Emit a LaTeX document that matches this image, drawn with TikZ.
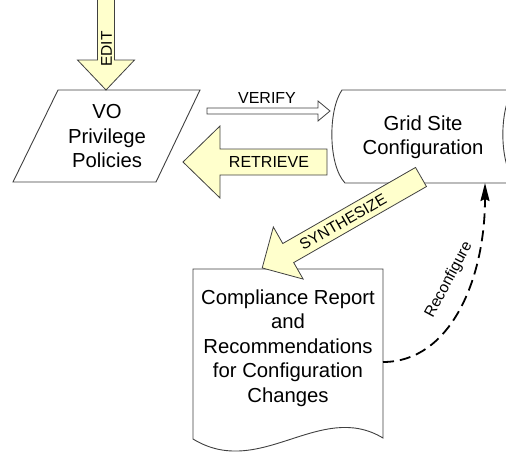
\documentclass[tikz,border=0pt]{standalone}
\usepackage{fontspec}
\setmainfont{Liberation Sans}
\usetikzlibrary{arrows.meta}
\definecolor{arrowfill}{HTML}{FFFFCC}
\definecolor{edgecol}{HTML}{404040}
\begin{document}
\begin{tikzpicture}[x=1pt,y=-1pt,
  shapeline/.style={draw=edgecol, line width=0.9pt, fill=white, line join=miter},
  blockarrow/.style={draw=edgecol, line width=0.8pt, fill=arrowfill, line join=miter},
  hollowarrow/.style={draw=edgecol, line width=0.8pt, fill=white, line join=miter},
  maintext/.style={align=center, font=\fontsize{20.3}{24.5}\selectfont, inner sep=0pt},
  labeltext/.style={font=\fontsize{16}{19}\selectfont, inner sep=0pt},
  smalltext/.style={font=\fontsize{15.5}{18}\selectfont, inner sep=0pt},
  dashconn/.style={line width=1.8pt, dash pattern=on 11pt off 6pt, -{Stealth[length=18pt,width=9pt,inset=2pt]}}
]
\useasboundingbox (0,0) rectangle (506,453);
\clip (0,0) rectangle (506,453);

% VO Privilege Policies (parallelogram)
\draw[shapeline] (58,90) -- (200,90) -- (156,182) -- (13,182) -- cycle;
\node[maintext] (vo) at (107,136.5) {VO\\Privilege\\Policies};

% Grid Site Configuration (stored data shape)
\draw[shapeline] (342,90) -- (513,90) .. controls (499,110) and (499,165) .. (516,183)
  -- (345,183) .. controls (328,165) and (328,110) .. (342,90) -- cycle;
\node[maintext] (grid) at (423,137) {Grid Site\\Configuration};

% Compliance report (document shape)
\draw[shapeline] (193,269) -- (383,269) -- (383,438) .. controls (320,400) and (260,480) .. (193,439) -- cycle;
\node[maintext] (doc) at (288,348) {Compliance Report\\and\\Recommendations\\for Configuration\\Changes};

% EDIT block arrow
\draw[blockarrow] (97.5,-2) -- (97.5,60) -- (77.5,60) -- (106,90) -- (134.5,60) -- (114.5,60) -- (114.5,-2) -- cycle;
\node[smalltext, rotate=90] (edit) at (106.5,49) {EDIT};

% VERIFY hollow arrow
\draw[hollowarrow] (207,108) -- (318,108) -- (318,101) -- (330,111) -- (318,121) -- (318,114) -- (207,114) -- cycle;
\node[labeltext] (verify) at (267,98) {VERIFY};

% RETRIEVE block arrow
\draw[blockarrow] (327,149) -- (220,149) -- (220,126) -- (183,162) -- (220,198) -- (220,175) -- (327,175) -- cycle;
\node[labeltext] (retrieve) at (269,162) {RETRIEVE};

% SYNTHESIZE block arrow
\draw[blockarrow, shift={(421,177)}, rotate=209.8]
  (0,11) -- (153,11) -- (153,30) -- (183,0) -- (153,-30) -- (153,-11) -- (0,-11) -- cycle;
\node[smalltext, rotate=29.8] (synth) at (343,222) {SYNTHESIZE};

% Reconfigure connector
\coordinate (docE) at (383,362);
\coordinate (gridS) at (485,183);
\draw[dashconn] (docE) .. controls +(67,0) and +(0,97) .. (gridS);
\node[smalltext, rotate=62] (reconf) at (449,280) {Reconfigure};
\end{tikzpicture}
\end{document}
